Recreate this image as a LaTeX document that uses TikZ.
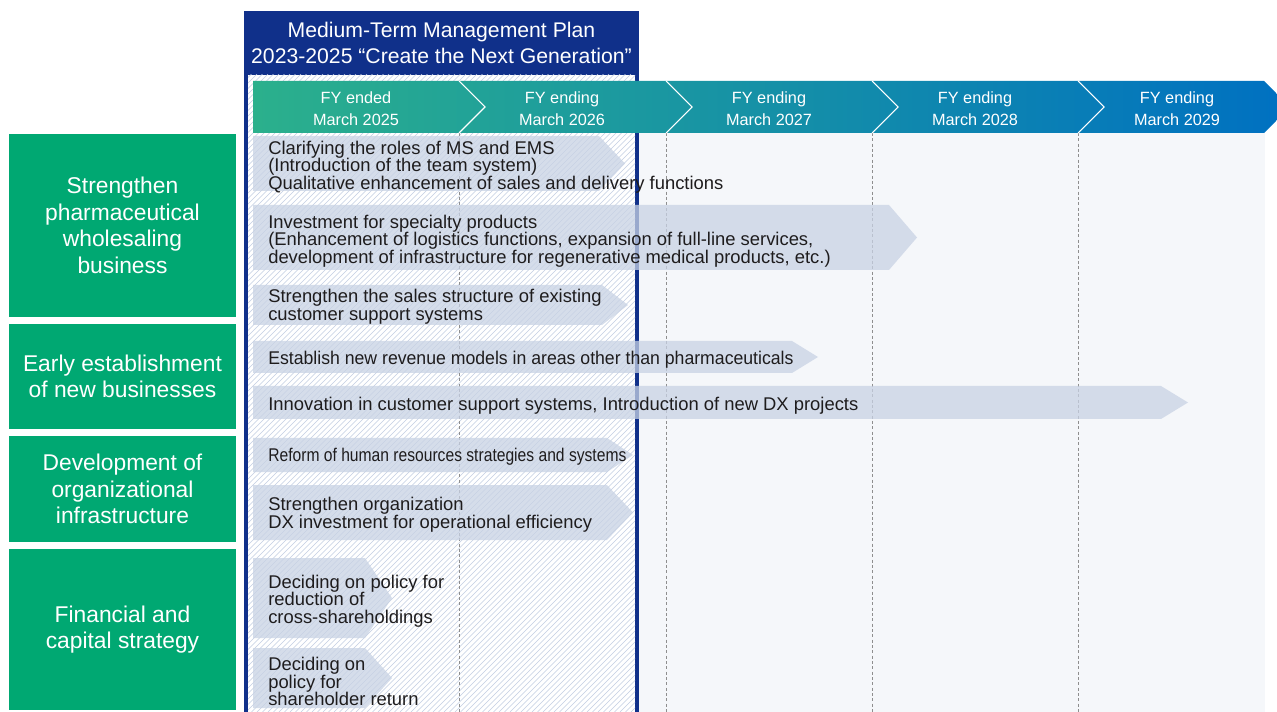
\documentclass[tikz,border=0pt]{standalone}
\usepackage{fontspec}
\setmainfont{Liberation Sans}
\usepackage{graphicx}
\definecolor{navy}{HTML}{10308A}
\definecolor{grn}{HTML}{00A872}
\definecolor{arrowfill}{RGB}{200,210,228}
\definecolor{hatchc}{HTML}{C2CDE2}
\definecolor{rightbg}{HTML}{F5F7FA}
\definecolor{txt}{HTML}{1E1C1D}
\definecolor{tlL}{HTML}{2BB08C}
\definecolor{tlM}{HTML}{009DAE}
\definecolor{tlR}{HTML}{0071C1}
\definecolor{dashgray}{HTML}{8E8E8E}
\newcommand\parrow[5]{\fill[planarrow] (#1,#2) -- (#3,#2) -- (#4,{(#2+#5)/2}) -- (#3,#5) -- (#1,#5) -- cycle;}
\begin{document}
\begin{tikzpicture}[x=0.75pt,y=-0.75pt,
 catbox/.style={fill=grn,text=white,align=center,inner sep=0pt,outer sep=0pt,minimum width=170.25pt,font=\fontsize{17.1}{19.9}\selectfont},
 atext/.style={anchor=west,inner sep=0pt,align=left,text=txt,font=\fontsize{13.8}{13.2}\selectfont},
 fytext/.style={text=white,align=center,inner sep=0pt,font=\fontsize{12.2}{16.5}\selectfont},
 titletext/.style={text=white,align=center,inner sep=0pt,font=\fontsize{15.9}{19.5}\selectfont},
 planarrow/.style={fill=arrowfill,fill opacity=0.75},
 yeardash/.style={draw=dashgray,dash pattern=on 2.2pt off 1.8pt,line width=0.6pt},
 chev/.style={draw=white,line width=0.8pt}]
\useasboundingbox (0,0) rectangle (1277,712);
% right background
\fill[rightbg] (639,133) rectangle (1265,712);
\draw[yeardash] (666,133) -- (666,712);
\draw[yeardash] (872,133) -- (872,712);
\draw[yeardash] (1078,133) -- (1078,712);
% plan frame
\fill[navy] (244,11) rectangle (639,712);
\fill[white] (248,75) rectangle (635,712);
\begin{scope}
\clip (248,75) rectangle (635,712);
\foreach \i in {0,...,190} {\draw[hatchc,line width=0.5pt] ({-392+\i*5.5},712) -- ++(640,-640);}
\end{scope}
\draw[yeardash] (459,133) -- (459,712);
\node[titletext] (title) at (441.5,43) {Medium-Term Management Plan\\2023-2025 “Create the Next Generation”};
% timeline
\shade[left color=tlL,middle color=tlM,right color=tlR] (253,81) -- (1264,81) -- (1277,94) -- (1277,120) -- (1264,133) -- (253,133) -- cycle;
\foreach \x in {459,666,872,1078} {\draw[chev] (\x,81) -- ({\x+26},107) -- (\x,133);}
\node[fytext] (fy25) at (356,109) {FY ended\\March 2025};
\node[fytext] (fy26) at (562,109) {FY ending\\March 2026};
\node[fytext] (fy27) at (769,109) {FY ending\\March 2027};
\node[fytext] (fy28) at (975,109) {FY ending\\March 2028};
\node[fytext] (fy29) at (1177,109) {FY ending\\March 2029};
% arrows
\parrow{253}{136}{599}{625}{191}
\parrow{253}{205}{889}{917}{270}
\parrow{253}{285}{602}{628}{325}
\parrow{253}{341}{792}{818}{373}
\parrow{253}{386}{1161}{1188}{419}
\parrow{253}{438}{607}{633}{472}
\parrow{253}{485}{607}{633}{540}
\parrow{253}{558}{365}{392}{638}
\parrow{253}{648}{365}{392}{708}
% arrow texts
\node[atext] (t1) at (268,167) {Clarifying the roles of MS and EMS\\(Introduction of the team system)\\Qualitative enhancement of sales and delivery functions};
\node[atext] (t2) at (268,241) {Investment for specialty products\\(Enhancement of logistics functions, expansion of full-line services,\\development of infrastructure for regenerative medical products, etc.)};
\node[atext] (t3) at (268,307) {Strengthen the sales structure of existing\\customer support systems};
\node[atext] (t4) at (268,359.5) {\scalebox{0.96}[1]{Establish new revenue models in areas other than pharmaceuticals}};
\node[atext] (t5) at (268,405.5) {Innovation in customer support systems, Introduction of new DX projects};
\node[atext] (t6) at (268,457) {\scalebox{0.85}[1]{Reform of human resources strategies and systems}};
\node[atext] (t7) at (268,515) {Strengthen organization\\DX investment for operational efficiency};
\node[atext] (t8) at (268,601) {Deciding on policy for\\reduction of\\cross-shareholdings};
\node[atext] (t9) at (268,681.5) {Deciding on\\policy for\\shareholder return};
% category boxes
\node[catbox,minimum height=137.25pt] (c1) at (122.5,225.5) {Strengthen\\pharmaceutical\\wholesaling\\business};
\node[catbox,minimum height=78.75pt] (c2) at (122.5,376.5) {Early establishment\\of new businesses};
\node[catbox,minimum height=79.5pt] (c3) at (122.5,489) {Development of\\organizational\\infrastructure};
\node[catbox,minimum height=120.75pt] (c4) at (122.5,629.5) {Financial and\\capital strategy};
\end{tikzpicture}
\end{document}
